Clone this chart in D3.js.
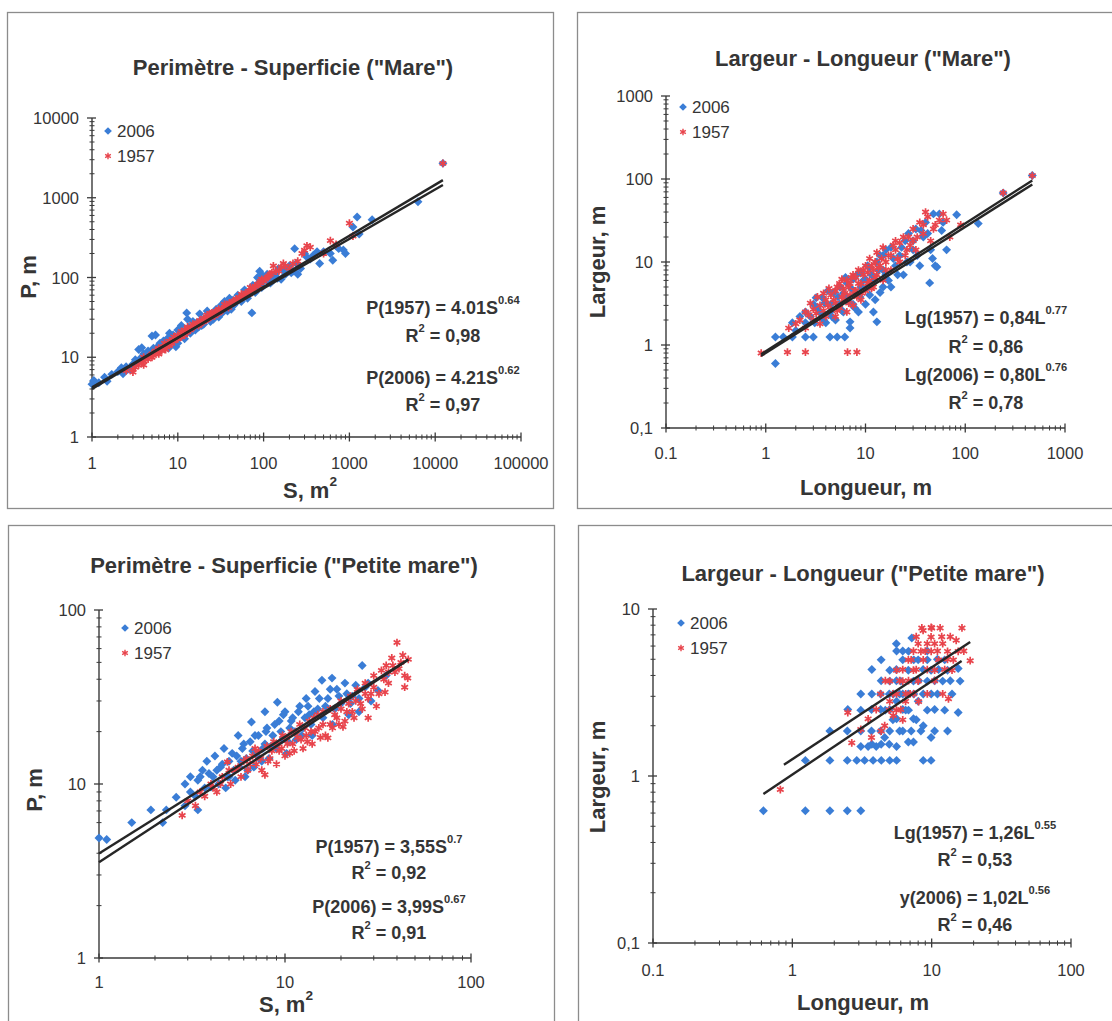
<!DOCTYPE html>
<html>
<head>
<meta charset="utf-8">
<script src="https://cdn.jsdelivr.net/npm/d3@7"></script>
<style>
body { margin: 0; background: #fff; }
text { font-family: "Liberation Sans", Arial, sans-serif; fill: #353535; }
</style>
</head>
<body>
<div id="chart"></div>
<script>
// ---- data ----
// Perimetre - Superficie ("Mare"): [S m2, P m]
const mareSP2006 = [[1,4.6],[1.05,5.1],[1.2,4.8],[1.4,5.6],[1.5,5.0],[1.7,6.1],[2,6.6],[2.2,7.4],[2.5,7.6],[2.8,7.0],[3,8.2],[3.2,9.3],[3.5,12.5],[3.8,13.2],[4,11],[4.5,12],[5,18.5],[5.5,19],[6,14],[6.5,13],[7,15.5],[7.5,17],[8,20],[8.5,16],[9,18],[9.5,13.5],[10,22],[10,15],[11,25],[12,17],[12.7,36],[13,30],[14,20],[15,28],[16,22],[18,35],[19,25],[20,30],[22,38],[24,28],[25,35],[28,40],[30,32],[32,45],[35,50],[38,38],[40,55],[45,45],[50,60],[55,50],[60,70],[65,55],[73,36],[75,80],[80,65],[85,100],[90,120],[95,75],[100,90],[110,110],[120,85],[130,100],[150,130],[160,95],[180,110],[200,140],[220,120],[230,230],[250,110],[300,200],[350,170],[420,210],[450,150],[500,210],[640,165],[700,250],[850,222],[900,200],[1100,430],[1230,575],[1300,350],[1840,530],[6300,890],[12300,2700],
  [2.3,6.2],[2.6,7.0],[3.3,8.5],[3.6,9.5],[4.2,10.5],[4.8,11.5],[5.2,13],[5.8,12],[6.2,15],[6.8,16],[7.2,14],[7.8,13],[8.2,17],[8.8,19],[9.2,15],[9.8,17],[10.5,19],[11.5,21],[12.5,20],[13.5,24],[14.5,23],[15.5,25],[16.5,27],[17.5,24],[18.5,29],[20,26],[21,31],[23,33],[26,30],[27,37],[29,34],[31,38],[33,36],[36,41],[39,44],[42,40],[44,52],[47,48],[52,55],[57,58],[62,62],[67,66],[72,68],[78,72],[82,80],[88,78],[92,92],[98,105],[105,95],[115,100],[125,105],[140,115],[145,98],[170,125],[190,130],[210,115],[240,150],[270,130],[320,180],[380,190],[600,200],[750,230]];
const mareSP1957 = [[2.5,6.8],[3,7],[3,6.5],[3.5,8],[4,9],[4,10],[4,8],[4.5,9.5],[5,10],[5,11],[5.5,12],[6,11],[6,13],[6.5,12],[7,13],[7,15],[7.5,14],[8,14],[8,16],[8.5,15],[9,16],[9,18],[10,17],[10,19],[11,18],[11,21],[12,19],[12,22],[13,21],[13,24],[14,22],[15,24],[15,26],[16,25],[17,27],[18,26],[18,29],[20,28],[20,31],[22,30],[22,34],[24,32],[25,36],[26,34],[28,37],[30,36],[30,40],[32,39],[35,42],[35,46],[38,44],[40,48],[42,46],[45,50],[48,54],[50,52],[55,56],[55,62],[60,60],[65,64],[70,68],[70,75],[75,72],[80,78],[85,82],[90,85],[95,95],[100,90],[110,100],[120,110],[130,140],[150,120],[170,150],[200,130],[250,160],[280,200],[300,220],[350,240],[500,200],[600,290],[700,260],[1000,480],[1100,330],[12300,2700],
  [3.2,7.5],[3.8,8.5],[4.2,9.5],[4.8,10.5],[5.2,10.5],[5.8,11.5],[6.2,12.5],[6.8,13.5],[7.2,12.5],[7.8,15],[8.2,15],[8.8,16.5],[9.5,17],[10.5,18],[11.5,19.5],[12.5,20.5],[13.5,22.5],[14.5,23],[15.5,24.5],[16.5,26],[17.5,25],[19,28],[21,29],[23,31],[24,35],[27,33],[29,38],[31,37],[33,40],[37,45],[39,42],[43,49],[47,50],[52,56],[58,58],[62,64],[68,62],[72,70],[78,74],[88,80],[92,90],[105,96],[115,105],[125,115],[140,120],[160,135],[180,140],[220,150],[320,250]];
const mareSPFits = [[4.01,0.64,1,12300],[4.21,0.62,1,12300]];

// Largeur - Longueur ("Mare"): [L m, W m]
const mareLW2006 = [[1.25,0.6],[1.25,1.25],[1.5,1.25],[1.85,1.25],[1.85,1.85],[2.5,1.25],[3,1.25],[2.5,1.85],[2.5,2.5],[3,3.1],[3.1,1.85],[3.5,2.5],[3.7,3.7],[4,1.85],[4.4,1.25],[4.4,2.5],[4.5,3.1],[4.8,4.3],[5.2,1.25],[5,2],[5.5,3.1],[5.5,5],[6.2,1.25],[6,2.5],[6.5,3.7],[6.5,5.6],[7,1.9],[7,1.6],[7.5,3.1],[7.5,6.2],[8,4.3],[8.5,2.5],[9,5],[9,7.5],[10,3.1],[10,6.2],[11,4],[11,8.5],[12,2.5],[12,6],[13,1.9],[13,10],[14,4.3],[15,8],[15,12],[17,6],[18,5],[18,15],[20,9],[22,12],[24,7],[25,18],[28,10],[30,14],[32,25],[35,9],[38,20],[40,30],[44,5.6],[45,14],[48,38],[50,9],[52,8.7],[55,38],[58,24],[60,30],[65,14],[82,37],[135,29],[240,68],[470,110],
  [2,1.5],[2.2,2.2],[2.8,2.2],[3.2,3.7],[3.3,2.8],[3.8,2],[3.9,3.2],[4.2,4.5],[4.6,2.2],[5.3,3.8],[5.8,2.6],[6,4.2],[6.3,6.5],[6.8,3.3],[7.2,4.8],[7.8,2.8],[8.2,7],[8.8,3.8],[9.5,6],[10.5,5],[10.5,9],[11.5,7],[12.5,3.5],[13.5,8],[14,12],[15,5],[16,7],[16,14],[19,11],[21,7],[23,15],[26,10],[27,22],[30,18],[33,12],[36,24],[42,22],[47,11]];
const mareLW1957 = [[0.9,0.8],[1.65,0.82],[2.5,0.82],[6.6,0.82],[8.2,0.82],[1.7,1.6],[2,1.8],[2.5,2.5],[2.5,1.6],[3,2],[3,2.7],[3.5,1.8],[3.5,3],[4,2.2],[4,3.5],[4.5,2.7],[4.5,4],[5,2.2],[5,3.2],[5,4.5],[5.5,2.8],[5.5,5.5],[6,3.5],[6,4.8],[6.5,2.5],[6.5,6],[7,4],[7,5.5],[7.5,3],[7.5,7],[8,4.5],[8,6.5],[8.5,8],[9,3.5],[9,5.5],[9.5,7],[10,4.5],[10,9],[11,6],[11,11],[12,5],[12,8],[13,7],[13,13],[14,9],[15,6],[15,15],[16,10],[17,12],[18,8],[20,14],[20,18],[22,10],[24,20],[25,12],[28,16],[30,25],[32,14],[35,30],[38,22],[40,40],[42,35],[45,18],[50,28],[60,38],[65,32],[70,20],[90,28],[240,68],[470,110],
  [2.2,2],[2.7,2.3],[2.8,3.2],[3.2,2.4],[3.3,3.8],[3.8,2.6],[3.8,4.2],[4.2,3],[4.3,4.8],[4.8,3.5],[5.2,2.6],[5.2,5],[5.8,3.8],[5.8,6.2],[6.2,4.2],[6.8,3.2],[6.8,5],[7.2,6.5],[7.8,4.5],[8.2,3.8],[8.5,5.5],[9.2,4.2],[9.5,8],[10.5,5.5],[10.5,7.5],[11.5,4.8],[11.5,9],[12.5,6.5],[12.5,10],[13.5,8.5],[14.5,11],[16,8],[18,12],[19,16],[21,11],[22,17],[26,14],[27,20],[30,18],[33,20],[38,28],[48,25],[55,32]];
const mareLWFits = [[0.84,0.77,0.9,470],[0.80,0.76,0.9,470]];

// Perimetre - Superficie ("Petite mare"): [S m2, P m]
const petiteSP2006 = [[1.0,4.9],[1.1,4.8],[1.5,6],[1.9,7.1],[2.2,6],[2.3,7.1],[2.6,8.4],[2.9,10],[2.9,7.5],[3.1,11],[3.1,9],[3.4,7.1],[3.4,10.5],[3.6,12],[3.7,9.5],[3.8,13.5],[4.0,9.6],[4.1,11],[4.2,14.5],[4.4,10],[4.5,12.5],[4.7,16],[4.8,9.5],[5,11],[5,13.5],[5.2,15],[5.4,10.5],[5.6,19],[5.7,12.5],[5.9,16],[6.1,11],[6.2,14],[6.5,17.5],[6.6,22.7],[6.8,12.5],[7,15],[7.2,19],[7.5,13.5],[7.8,26],[7.8,17],[8,21],[8.2,14],[8.6,19],[9,16],[9.1,29.5],[9.3,23],[9.7,18],[10,26],[10.2,15],[10.6,21],[11,24],[11.5,18],[12,28],[12.5,21],[13,31],[13.5,25],[14,19],[14.5,34],[15,27],[15.8,39.5],[16,24],[17,31],[17.9,40.6],[18,22],[19,35],[20,29],[21,38],[22,25],[23,32],[25,26],[26,48],[27,36],[29,30],[31.6,34.5],[35,42],
  [3.3,8.5],[3.5,11],[3.9,11.5],[4.3,12],[4.6,13],[4.9,11],[5.3,12],[5.5,14.5],[5.8,13.5],[6,17],[6.3,12],[6.7,15.5],[6.9,19],[7.3,14],[7.6,16],[7.9,20],[8.4,16.5],[8.8,22],[9.5,20],[9.8,25],[10.4,17.5],[10.8,23],[11.3,20],[11.8,26],[12.3,19],[12.8,24],[13.3,28],[13.8,22],[14.3,26],[15.3,31],[16.5,28],[17.5,35],[18.5,27],[19.5,32],[21.5,33],[22.5,29],[24,37],[25,31],[28,38]];
const petiteSP1957 = [[2.8,6.6],[3.3,7.5],[3.7,8.5],[4,10],[4.3,9],[4.6,11],[4.9,13.4],[5.1,10],[5.4,12],[5.8,11],[6,13.5],[6.3,12],[6.7,14.5],[7,13],[7.2,15.5],[7.5,12],[7.8,11.3],[8,16.5],[8.3,14],[8.7,17.5],[9,13],[9.3,15.5],[9.7,19],[10,14.5],[10.3,17],[10.8,20],[11.2,15.5],[11.7,18.5],[12,22],[12.5,16],[13,19],[13.5,23],[14,17],[14.5,20],[15,25],[15.5,18.5],[16,22],[17,18.4],[17.5,27],[18,21],[19,24],[20,30],[20.5,21.3],[21.5,26],[22.5,32],[23.5,24],[24.5,35],[25.5,29],[27,38],[28,24],[29,33],[30,42],[31,28],[33,45],[34.5,33.7],[35,48],[36,38],[37.5,53],[39,44],[40,65],[42,50],[44,36],[45.7,40.6],[46,52],
  [3,8],[3.5,9],[4.1,9.5],[4.5,10],[5,12],[5.6,12.5],[6.2,14],[6.5,13],[6.9,16],[7.4,14],[8.1,13.5],[8.5,15.5],[9.1,17],[9.6,16],[10.2,18.5],[10.6,15],[11,17],[11.5,20],[12.2,18],[12.8,21],[13.2,17.5],[13.8,20],[14.3,24],[15.2,21],[16,26],[16.5,19],[17.5,22],[18.5,25],[19.5,22],[20,27],[21,23],[22,29],[23,26],[24,30],[26,27],[27,33],[28,31],[30,36],[32,33],[34,40],[36,44],[38,48],[41,46],[43,55],[44,42]];
const petiteSPFits = [[3.55,0.70,1,46],[3.99,0.67,1,46]];

// Largeur - Longueur ("Petite mare"): [L m, W m]
const petiteLW2006 = [[0.62,0.62],[1.24,0.62],[1.86,0.62],[2.48,0.62],[3.1,0.62],[1.24,1.24],[1.86,1.24],[2.48,1.24],[2.9,1.24],[3.3,1.24],[3.8,1.24],[4.35,1.24],[5,1.24],[5.6,1.24],[8.7,1.24],[9.9,1.24],[1.86,1.86],[2.48,1.86],[2.5,2.5],[3.1,3.1],[3.1,1.5],[3.5,1.5],[3.7,1.86],[3.7,2.5],[4,1.5],[4.3,1.86],[4.3,2.5],[4.3,3.1],[4.6,1.7],[5,1.86],[5,2.5],[5,3.7],[5,4.3],[5.3,3.1],[5.6,1.5],[5.6,2.2],[5.6,2.8],[5.6,5.6],[6,3.7],[6.2,1.86],[6.2,2.5],[6.2,4.96],[6.2,5.6],[6.8,1.6],[6.8,3.1],[6.8,4.3],[7.2,6.7],[7.4,2.2],[7.4,3.7],[7.4,1.6],[8,2.8],[8,4.96],[8.7,3.1],[8.7,2],[9.3,3.7],[9.3,5.6],[9.9,1.7],[9.9,4.3],[10.5,2.5],[11,3.1],[11,5],[12,3.7],[13,1.86],[13,4.3],[14,3.1],[15.5,2.4],[15.5,4.4],[16,3.7],
  [3.1,1.86],[3.1,2.48],[3.72,1.55],[3.72,3.1],[4.34,1.55],[4.34,3.72],[4.65,2.48],[4.96,1.55],[4.96,3.1],[5.27,2.17],[5.58,3.72],[5.58,4.34],[5.89,1.86],[5.89,3.1],[6.2,3.1],[6.51,2.48],[6.82,2.48],[6.82,5.58],[7.13,1.86],[7.44,3.1],[7.44,4.96],[7.75,2.17],[8.06,3.72],[8.37,1.86],[8.68,4.34],[9.3,2.48],[9.3,4.96],[9.92,3.1],[10.5,3.72],[10.5,1.86],[11.2,4.34],[12.4,2.48],[12.4,4.96],[13.6,3.72],[5.58,6.2],[4.34,4.96],[3.72,4.34]];
const petiteLW1957 = [[0.82,0.83],[2.67,1.58],[2.5,2.4],[3.1,1.9],[3.5,2.2],[3.7,1.7],[4,2.5],[4.3,3.1],[4.6,2],[5,2.8],[5,3.7],[5.3,2.3],[5.6,3.1],[5.6,4.3],[6,2.5],[6.2,3.7],[6.5,2.8],[6.8,4.96],[7,3.1],[7.4,4.3],[7.4,5.6],[8,3.7],[8,6.2],[8.5,7.7],[8.7,4.96],[9,5.6],[9.3,3.1],[9.9,6.8],[10,7.7],[10.5,4.3],[11,5.6],[11.5,7.7],[12,3.1],[12,6.2],[13.2,2.9],[13,5],[14,4.3],[15,6.5],[16.5,7.7],[17,5.6],[18.9,4.9],
  [4.34,1.86],[4.65,3.72],[4.96,2.48],[5.27,3.1],[5.58,2.48],[5.89,3.72],[6.2,4.34],[6.51,3.1],[6.82,3.72],[7.13,4.96],[7.44,3.1],[7.75,4.34],[7.75,6.82],[8.37,5.58],[8.68,7.44],[9.3,4.34],[9.3,6.2],[9.92,5.58],[10.5,6.2],[11.2,4.96],[11.8,6.82],[12.4,4.34],[13,5.58],[13.6,6.82],[14.3,4.96],[15.5,5.58],[9.92,7.75],[10.5,3.72],[8.06,2.79],[6.2,2.17]];
const petiteLWFits = [[1.26,0.55,0.87,18.9],[1.02,0.56,0.62,16.4]];

// tick labels
const p1XTicks = [1,10,100,1000,10000,100000], p1XLabels = ["1","10","100","1000","10000","100000"];
const p1YTicks = [1,10,100,1000,10000], p1YLabels = ["1","10","100","1000","10000"];
const p2XTicks = [0.1,1,10,100,1000], p2XLabels = ["0.1","1","10","100","1000"];
const p2YTicks = [0.1,1,10,100,1000], p2YLabels = ["0,1","1","10","100","1000"];
const p3XTicks = [1,10,100], p3XLabels = ["1","10","100"];
const p3YTicks = [1,10,100], p3YLabels = ["1","10","100"];
const p4XTicks = [0.1,1,10,100], p4XLabels = ["0.1","1","10","100"];
const p4YTicks = [0.1,1,10], p4YLabels = ["0,1","1","10"];

const BLUE = "#3a7dd6", RED = "#e8444c", LINE = "#262626", AXIS = "#3a3a3a";

const svg = d3.select("#chart").append("svg").attr("width", 1112).attr("height", 1021);

const diamond = {
    draw(ctx, size) {
        const r = Math.sqrt(size / 2);
        ctx.moveTo(0, -r); ctx.lineTo(r, 0); ctx.lineTo(0, r); ctx.lineTo(-r, 0); ctx.closePath();
    }
};
const blueSym = d3.symbol().type(diamond).size(40);
const redSym = d3.symbol().type(d3.symbolAsterisk).size(42);
const blueLeg = d3.symbol().type(diamond).size(30);
const redLeg = d3.symbol().type(d3.symbolAsterisk).size(30);

// text with optional superscript parts: [[str, sup?], ...]
function richText(g, x, y, parts, size, weight, anchor) {
    const t = g.append("text").attr("x", x).attr("y", y)
        .attr("font-size", size).attr("font-weight", weight)
        .attr("text-anchor", anchor || "middle").attr("dominant-baseline", "central");
    let up = false;
    parts.forEach(p => {
        const s = t.append("tspan").text(p[0]);
        if (p[1] && !up) { s.attr("dy", -size * 0.42).attr("font-size", size * 0.62); up = true; }
        else if (p[1]) { s.attr("font-size", size * 0.62); }
        else if (up) { s.attr("dy", size * 0.42); up = false; }
    });
    return t;
}

function drawPanel(cfg) {
    const g = svg.append("g");
    g.append("rect").attr("x", cfg.box[0] + 0.5).attr("y", cfg.box[1] + 0.5)
        .attr("width", cfg.box[2]).attr("height", cfg.box[3])
        .attr("fill", "none").attr("stroke", "#8c8c8c").attr("stroke-width", 1.3);

    const x = d3.scaleLog().domain(cfg.xDomain).range(cfg.xRange);
    const y = d3.scaleLog().domain(cfg.yDomain).range(cfg.yRange);
    const x0 = cfg.xRange[0], y0 = cfg.yRange[0];

    // axes
    g.append("line").attr("x1", x0).attr("x2", cfg.xRange[1]).attr("y1", y0).attr("y2", y0)
        .attr("stroke", AXIS).attr("stroke-width", 1.4);
    g.append("line").attr("x1", x0).attr("x2", x0).attr("y1", y0).attr("y2", cfg.yRange[1])
        .attr("stroke", AXIS).attr("stroke-width", 1.4);

    const minorX = x.ticks().filter(v => !cfg.xTicks.some(t => Math.abs(t - v) / t < 1e-6));
    const minorY = y.ticks().filter(v => !cfg.yTicks.some(t => Math.abs(t - v) / t < 1e-6));
    g.selectAll(".mx").data(minorX).join("line")
        .attr("x1", d => x(d)).attr("x2", d => x(d)).attr("y1", y0 - 2.5).attr("y2", y0 + 2.5)
        .attr("stroke", AXIS).attr("stroke-width", 1);
    g.selectAll(".my").data(minorY).join("line")
        .attr("y1", d => y(d)).attr("y2", d => y(d)).attr("x1", x0 - 2.5).attr("x2", x0 + 2.5)
        .attr("stroke", AXIS).attr("stroke-width", 1);
    g.selectAll(".Mx").data(cfg.xTicks).join("line")
        .attr("x1", d => x(d)).attr("x2", d => x(d)).attr("y1", y0 - 4.5).attr("y2", y0 + 4.5)
        .attr("stroke", AXIS).attr("stroke-width", 1.3);
    g.selectAll(".My").data(cfg.yTicks).join("line")
        .attr("y1", d => y(d)).attr("y2", d => y(d)).attr("x1", x0 - 5).attr("x2", x0 + 4)
        .attr("stroke", AXIS).attr("stroke-width", 1.3);

    g.selectAll(".lx").data(cfg.xTicks).join("text")
        .attr("x", d => x(d)).attr("y", y0 + cfg.xLabOff).attr("text-anchor", "middle")
        .attr("dominant-baseline", "central").attr("font-size", 16.5)
        .text((d, i) => cfg.xLabels[i]);
    g.selectAll(".ly").data(cfg.yTicks).join("text")
        .attr("x", x0 - 13).attr("y", d => y(d)).attr("text-anchor", "end")
        .attr("dominant-baseline", "central").attr("font-size", 16.5)
        .text((d, i) => cfg.yLabels[i]);

    // titles
    g.append("text").attr("x", cfg.title[1]).attr("y", cfg.title[2]).attr("text-anchor", "middle")
        .attr("dominant-baseline", "central").attr("font-size", 22).attr("font-weight", "bold")
        .text(cfg.title[0]);
    g.append("text").attr("transform", `translate(${cfg.yTitle[1]},${cfg.yTitle[2]}) rotate(-90)`)
        .attr("text-anchor", "middle").attr("dominant-baseline", "central")
        .attr("font-size", 22).attr("font-weight", "bold").text(cfg.yTitle[0]);
    richText(g, cfg.xTitle[1], cfg.xTitle[2], cfg.xTitle[0], 22, "bold");

    // points: 2006 first, 1957 on top
    g.selectAll(".pb").data(cfg.blue).join("path")
        .attr("transform", d => `translate(${x(d[0])},${y(d[1])})`)
        .attr("d", blueSym).attr("fill", BLUE);
    g.selectAll(".pr").data(cfg.red).join("path")
        .attr("transform", d => `translate(${x(d[0])},${y(d[1])})`)
        .attr("d", redSym).attr("fill", "none").attr("stroke", RED).attr("stroke-width", 1.7);

    // power-law trend lines (straight in log-log)
    const line = d3.line().x(d => x(d[0])).y(d => y(d[1]));
    cfg.fits.forEach(f => {
        const pts = [[f[2], f[0] * Math.pow(f[2], f[1])], [f[3], f[0] * Math.pow(f[3], f[1])]];
        g.append("path").attr("d", line(pts)).attr("fill", "none")
            .attr("stroke", LINE).attr("stroke-width", 2.4);
    });

    // legend
    const lx = cfg.legend[0], ly = cfg.legend[1];
    g.append("path").attr("transform", `translate(${lx},${ly})`).attr("d", blueLeg).attr("fill", BLUE);
    g.append("path").attr("transform", `translate(${lx},${ly + 25})`).attr("d", redLeg)
        .attr("fill", "none").attr("stroke", RED).attr("stroke-width", 1.4);
    g.append("text").attr("x", lx + 9).attr("y", ly).attr("dominant-baseline", "central")
        .attr("font-size", 17).text("2006");
    g.append("text").attr("x", lx + 9).attr("y", ly + 25).attr("dominant-baseline", "central")
        .attr("font-size", 17).text("1957");

    // equations
    cfg.eqs.forEach((e, i) => richText(g, cfg.eqX, cfg.eqY[i], e, 18, "bold"));
}

drawPanel({
    box: [7, 12, 546, 496],
    xDomain: [1, 100000], xRange: [92, 521], yDomain: [1, 10000], yRange: [437, 118],
    xTicks: p1XTicks, xLabels: p1XLabels, yTicks: p1YTicks, yLabels: p1YLabels, xLabOff: 26,
    title: ['Perimètre - Superficie ("Mare")', 293, 67],
    yTitle: ["P, m", 28, 277],
    xTitle: [[["S, m"], ["2", true]], 310, 490],
    blue: mareSP2006, red: mareSP1957, fits: mareSPFits,
    legend: [108, 131],
    eqX: 443, eqY: [308, 336, 378, 405],
    eqs: [[["P(1957) = 4.01S"], ["0.64", true]], [["R"], ["2", true], [" = 0,98"]],
          [["P(2006) = 4.21S"], ["0.62", true]], [["R"], ["2", true], [" = 0,97"]]]
});

drawPanel({
    box: [577, 12, 545, 496],
    xDomain: [0.1, 1000], xRange: [666, 1065], yDomain: [0.1, 1000], yRange: [428, 96],
    xTicks: p2XTicks, xLabels: p2XLabels, yTicks: p2YTicks, yLabels: p2YLabels, xLabOff: 25,
    title: ['Largeur - Longueur ("Mare")', 863, 58],
    yTitle: ["Largeur, m", 597, 262],
    xTitle: [[["Longueur, m"]], 866, 487],
    blue: mareLW2006, red: mareLW1957, fits: mareLWFits,
    legend: [683, 107],
    eqX: 986, eqY: [318, 347, 375, 403],
    eqs: [[["Lg(1957) = 0,84L"], ["0.77", true]], [["R"], ["2", true], [" = 0,86"]],
          [["Lg(2006) = 0,80L"], ["0.76", true]], [["R"], ["2", true], [" = 0,78"]]]
});

drawPanel({
    box: [8, 525, 546, 510],
    xDomain: [1, 100], xRange: [99, 471], yDomain: [1, 100], yRange: [958, 610],
    xTicks: p3XTicks, xLabels: p3XLabels, yTicks: p3YTicks, yLabels: p3YLabels, xLabOff: 24,
    title: ['Perimètre - Superficie ("Petite mare")', 284, 565],
    yTitle: ["P, m", 34, 790],
    xTitle: [[["S, m"], ["2", true]], 286, 1004],
    blue: petiteSP2006, red: petiteSP1957, fits: petiteSPFits,
    legend: [125, 628],
    eqX: 389, eqY: [847, 873, 907, 933],
    eqs: [[["P(1957) = 3,55S"], ["0.7", true]], [["R"], ["2", true], [" = 0,92"]],
          [["P(2006) = 3,99S"], ["0.67", true]], [["R"], ["2", true], [" = 0,91"]]]
});

drawPanel({
    box: [578, 525, 545, 510],
    xDomain: [0.1, 100], xRange: [653, 1071], yDomain: [0.1, 10], yRange: [943, 609],
    xTicks: p4XTicks, xLabels: p4XLabels, yTicks: p4YTicks, yLabels: p4YLabels, xLabOff: 27,
    title: ['Largeur - Longueur ("Petite mare")', 863, 573],
    yTitle: ["Largeur, m", 597, 777],
    xTitle: [[["Longueur, m"]], 863, 1002],
    blue: petiteLW2006, red: petiteLW1957, fits: petiteLWFits,
    legend: [681, 623],
    eqX: 975, eqY: [833, 860, 898, 925],
    eqs: [[["Lg(1957) = 1,26L"], ["0.55", true]], [["R"], ["2", true], [" = 0,53"]],
          [["y(2006) = 1,02L"], ["0.56", true]], [["R"], ["2", true], [" = 0,46"]]]
});
</script>
</body>
</html>
